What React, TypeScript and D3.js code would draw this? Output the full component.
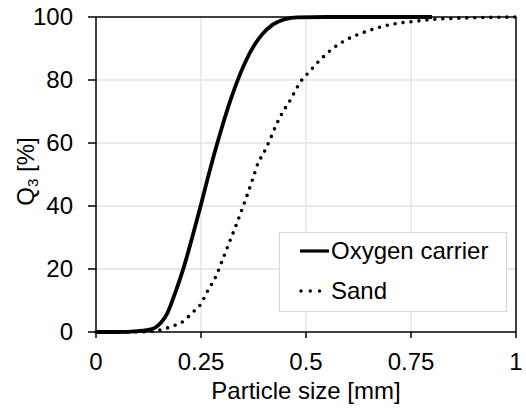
import React from "react";
import * as d3 from "d3";

const xTicks = [0, 0.25, 0.5, 0.75, 1];
const xTickLabels = ["0", "0.25", "0.5", "0.75", "1"];
const yTicks = [0, 20, 40, 60, 80, 100];

const carrierX = [0, 0.05, 0.1, 0.12, 0.14, 0.155, 0.17, 0.19, 0.21, 0.23, 0.25, 0.265, 0.28, 0.295, 0.32, 0.345, 0.37, 0.395, 0.42, 0.45, 0.48, 0.55, 0.8];
const carrierQ = [0, 0, 0.3, 0.6, 1.3, 3, 6, 13, 21, 30.5, 40.5, 48.3, 55.8, 62.8, 73.5, 82.5, 89.5, 94.4, 97.5, 99.3, 99.9, 100, 100];

const sandX = [0, 0.1, 0.13, 0.145, 0.164, 0.18, 0.202, 0.231, 0.248, 0.267, 0.286, 0.302, 0.317, 0.331, 0.345, 0.36, 0.374, 0.386, 0.398, 0.414, 0.43, 0.45, 0.462, 0.479, 0.49, 0.505, 0.531, 0.562, 0.595, 0.633, 0.669, 0.709, 0.75, 0.81, 0.88, 0.95, 1.0];
const sandQ = [0, 0, 0.2, 0.5, 1, 1.8, 2.9, 6.3, 8.6, 13.3, 17.8, 23.2, 28.3, 33, 38, 43.5, 48.9, 53.7, 56.5, 61, 66, 71, 73.5, 77.7, 80, 82.2, 86, 89.8, 92.7, 94.9, 96.5, 97.8, 98.5, 99.3, 99.7, 99.9, 100];

const seriesNames = ["Oxygen carrier", "Sand"];

const W = 526;
const H = 412;
const left = 96;
const right = 516;
const top = 17;
const bottom = 332;

export default function App() {
  const x = d3.scaleLinear().domain([0, 1]).range([left, right]);
  const y = d3.scaleLinear().domain([0, 100]).range([bottom, top]);
  const line = d3
    .line<[number, number]>()
    .x((d) => x(d[0]))
    .y((d) => y(d[1]))
    .curve(d3.curveMonotoneX);
  const carrier = carrierX.map((v, i) => [v, carrierQ[i]] as [number, number]);
  const sand = sandX.map((v, i) => [v, sandQ[i]] as [number, number]);
  const font = "'Liberation Sans', Arial, sans-serif";
  const fs = 24;

  return (
    <svg
      width={W}
      height={H}
      style={{ position: "absolute", left: 0, top: 0, background: "#fff" }}
      fontFamily={font}
    >
      <rect x={0} y={0} width={W} height={H} fill="#fff" />
      {/* grid */}
      {yTicks.filter((t) => t > 0 && t < 100).map((t) => (
        <line key={"gy" + t} x1={left} x2={right} y1={y(t)} y2={y(t)} stroke="#e2e2e2" strokeWidth={1.3} />
      ))}
      {xTicks.filter((t) => t > 0 && t < 1).map((t) => (
        <line key={"gx" + t} x1={x(t)} x2={x(t)} y1={top} y2={bottom} stroke="#e2e2e2" strokeWidth={1.3} />
      ))}
      {/* series */}
      <path d={line(sand) || ""} fill="none" stroke="#000" strokeWidth={3.6} strokeLinecap="round" strokeDasharray="0 8" />
      <path d={line(carrier) || ""} fill="none" stroke="#000" strokeWidth={3.8} strokeLinejoin="round" />
      {/* frame */}
      <line x1={left} x2={right} y1={top} y2={top} stroke="#000" strokeWidth={1.5} />
      <line x1={right} x2={right} y1={top} y2={bottom} stroke="#000" strokeWidth={1.5} />
      <line x1={left} x2={left} y1={top} y2={bottom} stroke="#000" strokeWidth={1.5} />
      <line x1={left} x2={right} y1={bottom} y2={bottom} stroke="#000" strokeWidth={1.5} />
      {/* y ticks */}
      {yTicks.map((t) => (
        <g key={"yt" + t}>
          <line x1={left - 8} x2={left} y1={y(t)} y2={y(t)} stroke="#000" strokeWidth={1.5} />
          <text x={73} y={y(t)} dy="0.35em" textAnchor="end" fontSize={fs} fill="#000">
            {t}
          </text>
        </g>
      ))}
      {/* x ticks */}
      {xTicks.map((t, i) => (
        <g key={"xt" + t}>
          <line x1={x(t)} x2={x(t)} y1={bottom} y2={bottom + 6} stroke="#000" strokeWidth={1.5} />
          <text x={x(t)} y={370} textAnchor="middle" fontSize={fs} fill="#000">
            {xTickLabels[i]}
          </text>
        </g>
      ))}
      {/* axis titles */}
      <text x={(left + right) / 2} y={399} textAnchor="middle" fontSize={fs} fill="#000">
        Particle size [mm]
      </text>
      <text transform={`translate(33.5, ${(top + bottom) / 2 - 3}) rotate(-90)`} textAnchor="middle" fontSize={fs} fill="#000">
        Q<tspan fontSize={15} dy={4}>3</tspan>
        <tspan dy={-4}> [%]</tspan>
      </text>
      {/* legend */}
      <rect x={279.5} y={232.5} width={227} height={79} fill="#fff" stroke="#d9d9d9" strokeWidth={1.2} />
      <line x1={300} x2={329} y1={251} y2={251} stroke="#000" strokeWidth={3.2} />
      <text x={331} y={251} dy="0.35em" fontSize={fs} fill="#000">
        {seriesNames[0]}
      </text>
      <line x1={301} x2={320} y1={291} y2={291} stroke="#000" strokeWidth={3.4} strokeLinecap="round" strokeDasharray="0 9.3" />
      <text x={331} y={291} dy="0.35em" fontSize={fs} fill="#000">
        {seriesNames[1]}
      </text>
    </svg>
  );
}
